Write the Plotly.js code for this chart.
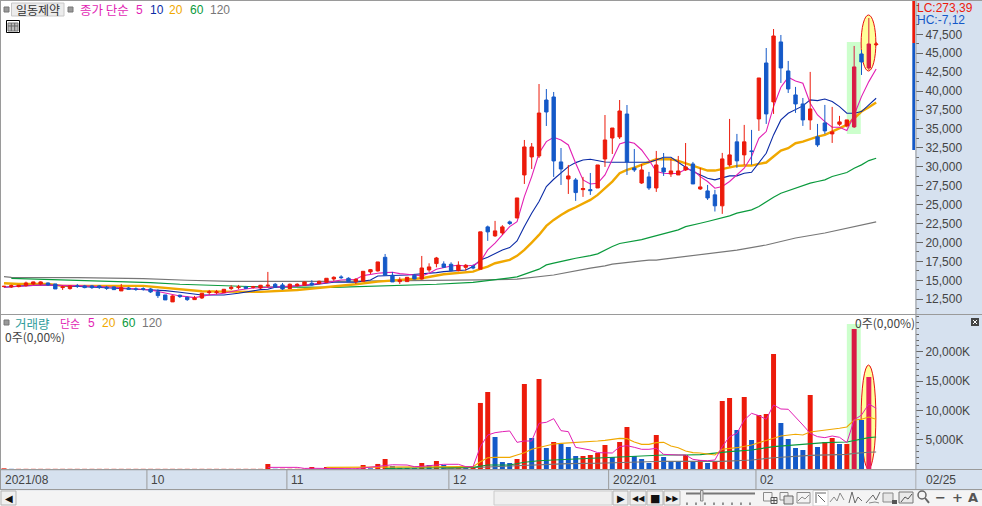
<!DOCTYPE html>
<html>
<head>
<meta charset="utf-8">
<script src="https://cdn.plot.ly/plotly-3.0.1.min.js"></script>
<style>html,body{margin:0;padding:0;background:#fff}#c{width:982px;height:506px}</style>
</head>
<body>
<div id="c"></div>
<script>
// ---------- data ----------
const openP = [14170,14130,14170,14300,14520,14520,14650,14520,14040,13910,
14260,14260,14260,14260,14080,14130,13600,13990,13860,13910,
13860,13470,13070,12150,13030,12760,12450,12670,13380,13380,
13380,13910,14040,14130,14080,13990,14260,14480,14390,13910,
14300,14350,14610,14570,14740,15180,15450,15270,14830,14870,
16110,16240,18040,15670,14830,14830,15670,15180,16370,17210,
17160,17120,16280,16720,16810,16470,22060,20870,21260,22720,
23240,28920,31300,31430,38820,39220,30640,28390,28260,26980,
26980,27200,31030,33800,33940,36970,29840,27860,28660,27200,
29840,29050,28920,29580,30370,27070,26810,26290,24840,30250,
33290,31570,32100,36320,43710,38570,46490,42660,39490,38300,
36190,33950,35790,34340,35620,35400,35270,44900,43050,46130];
const closeP = [14210,14300,14350,14650,14790,14790,14390,13860,14130,14260,
14210,14040,14040,14040,13950,13770,14040,13820,13820,13820,
13470,12980,12410,12940,12850,12450,12670,13290,13470,13470,
13820,14080,14130,13950,14170,14350,14350,14080,13860,14480,
14480,14790,14390,14870,15270,15400,15360,14830,15140,16190,
16410,17430,15670,14790,15050,15400,15180,16630,16770,17950,
16720,16280,16990,16990,16630,21400,21400,21530,22060,22500,
25880,32620,32620,37100,37240,30770,29710,28790,26590,27120,
26850,30240,33540,35120,37370,30640,29580,29580,27200,30240,
29320,29450,29450,29980,27730,27340,25880,24840,31040,31570,
30780,33290,32010,41730,36980,47280,43050,40280,38300,36190,
37640,32890,34740,34610,35930,36190,43190,43850,46220,46220];
const highP = [14260,14430,14390,14830,14830,14870,14700,14520,14300,14300,
14520,14390,14390,14350,14260,14170,14520,14130,14080,14080,
13990,13820,13070,13030,13110,12850,12940,13290,13730,13730,
13820,14350,14390,14260,14260,14390,16110,14650,14650,14570,
14610,14830,15010,14960,15270,15530,15670,15400,15270,16190,
16500,17430,18480,16110,15400,15400,15840,18220,17250,18090,
17510,17380,17510,17160,17070,21400,22230,22850,22280,22890,
25880,33540,33140,40930,40270,39880,32480,30240,28520,28660,
29180,30240,36840,35120,38820,38160,32350,30370,29320,32090,
31820,31030,31430,33140,30640,29840,27600,26950,31830,36320,
34340,35530,34870,41730,45690,48200,47410,43980,40550,39090,
42530,35660,38170,37910,36720,36190,45960,45430,49650,46490];
const lowP = [14080,13990,14080,14170,14390,14350,14260,13860,13730,13770,
13990,13950,13860,13860,13730,13730,13600,13730,13600,13640,
13330,12670,12410,12150,12670,12280,12410,12540,13110,13160,
13380,13730,13820,13860,13910,13820,14080,14040,13730,13860,
14170,14300,14300,14480,14700,14920,15180,14790,14520,14870,
15840,16150,15670,14790,14520,14830,15140,15090,16110,16720,
16630,16190,16190,16280,16460,16470,20210,20740,21000,22320,
23200,27730,29710,31160,35390,28660,27600,26410,25490,26020,
26280,27200,29980,31690,33670,28920,29320,27730,26940,26680,
28790,28660,28920,29450,27730,26940,25620,24090,23780,30030,
29850,30250,30250,34740,35660,36980,41070,39750,37120,35400,
34870,32630,34340,33150,35400,35220,35130,42130,42790,45960];
const highlighted = [116,118];

const ma5X = [0,5,10,15,20,22,24,26,28,30,32,34,36,38,40,42,44,46,48,49,50,51,52,53,54,55,56,57,58,59,60,61,62,63,64,
65,66,67,68,69,70,71,72,73,74,75,76,77,78,79,80,81,82,83,84,85,86,87,88,89,90,91,92,93,94,95,
96,97,98,99,100,101,102,103,104,105,106,107,108,109,110,111,112,113,114,115,116,117,118,119];
const ma5Y = [14080,14390,14300,14080,13730,13290,12940,12720,13070,13290,13730,13990,14130,14170,14260,14480,14700,15050,15140,15620,15800,15930,16020,16060,15890,15750,15710,15580,15930,16460,16720,16900,16990,16900,16990,
17480,19020,19900,21000,22100,22760,26060,28700,31780,33320,33890,33540,32880,30460,28260,27730,27820,28920,30900,33010,33320,33100,32220,30900,29360,29140,29100,29140,29670,29580,28700,
28050,27170,27390,28050,28930,29810,31350,33770,34650,37950,40500,41820,41340,41030,38390,36850,35970,35220,35220,34780,36850,39270,41250,42920];
const ma10X = [0,3,6,10,13,16,18,20,22,24,25,27,30,32,35,36,37,40,42,45,48,50,51,55,57,59,60,63,64,
65,66,67,68,69,70,71,72,73,74,75,76,77,78,79,80,81,82,83,84,85,86,87,88,89,90,91,92,93,94,95,
96,97,98,99,100,101,102,103,104,105,106,107,108,109,110,111,112,113,114,115,116,117,118,119];
const ma10Y = [14080,14300,14390,14170,13990,13910,13820,13730,13640,13420,13290,13070,13070,13290,13770,13820,14080,14260,14390,14740,14740,15050,15580,15710,15840,16020,16150,16370,16820,
17700,18050,18490,19020,19330,20210,22100,23860,25400,27380,28350,29230,30020,30550,30900,30990,30770,30640,30590,30590,30590,30590,30590,30590,30900,31250,31250,30550,29930,29360,28920,
28490,28270,28580,28800,28800,29150,29280,30470,31790,34210,36190,37070,37600,38040,38830,38740,38960,38610,37950,37070,37070,37290,38170,39050];
const ma20X = [0,2,6,8,19,21,24,27,30,35,40,44,48,51,54,57,60,64,
65,66,67,68,69,70,71,72,73,74,75,76,77,78,79,80,81,82,83,84,85,86,87,88,89,90,91,92,93,94,95,
96,97,98,99,100,101,102,103,104,105,106,107,108,109,110,111,112,113,114,115,116,117,118,119];
const ma20Y = [14610,14520,14520,14260,14260,14080,13730,13550,13510,13470,13730,14080,14480,14830,15050,15270,15800,16150,
16510,16820,17260,17480,17700,18230,19020,19990,21000,22190,22980,23640,24210,24650,25090,25620,26280,27160,28040,29140,29580,29890,30280,30680,30990,31030,30990,30770,30460,30150,29800,
29500,29500,29680,29900,30120,30160,30160,30380,30560,31350,32140,32450,33110,33330,33680,33990,34210,34650,35090,35530,36410,37290,37860,38480];
const ma60X = [1,6,15,20,24,28,35,45,50,55,59,64,70,73,74,75,76,77,78,79,80,81,82,83,84,85,86,87,88,89,90,91,92,93,94,95,
96,97,98,99,100,101,102,103,104,105,106,107,108,109,110,111,112,113,114,115,116,117,118,119];
const ma60Y = [15270,15140,14830,14700,14480,14350,14130,14080,14210,14350,14480,14740,15450,16470,17040,17260,17440,17700,17920,18050,18270,18490,19020,19460,19860,20030,20210,20380,20650,20910,21090,21440,21660,22100,22360,22540,
22770,22990,23210,23520,23870,24090,24310,24750,25410,25980,26510,26860,27170,27520,27830,28050,28270,28710,28930,29240,29810,30250,30820,31130];
const ma120X = [0,1,10,19,25,31,45,62,65,70,75,80,81,82,83,84,85,86,87,88,89,90,91,92,93,94,95,96,100,104,108,112,114,116,119];
const ma120Y = [15490,15400,15360,15230,15010,14870,14870,14960,15050,15150,15700,16600,16730,16910,17130,17260,17390,17480,17570,17660,17660,17790,17920,18010,18100,18270,18400,18480,19000,19670,20590,21250,21650,22050,22710];

// volume in thousands of shares
const volume = [115,30,30,30,30,30,30,30,30,30,30,30,30,30,30,30,30,30,30,30,
30,30,30,30,30,30,30,30,30,30,30,30,30,30,30,30,850,40,40,40,
40,40,340,40,340,60,60,60,60,680,120,860,1710,510,200,180,150,1020,680,1370,
680,200,400,180,230,11270,13140,5460,1190,1020,1710,14510,5290,15360,3580,4610,4270,3760,2220,2220,
2390,2730,4100,2050,4610,7170,2220,1710,1020,5800,2050,1370,1250,2390,1370,1540,1020,1250,11610,12120,
6660,12290,4950,9220,9390,19630,7850,5120,3580,3240,12630,3760,4610,5290,4270,4270,23900,8360,15700,0];
const volMa5X = [36,40,41,42,48,49,50,51,52,53,55,56,57,58,59,60,62,63,64,
65,66,67,68,69,70,71,72,73,74,75,76,77,78,79,80,81,82,83,84,85,86,87,88,89,90,91,92,93,94,95,96,
97,98,99,100,101,102,103,104,105,106,107,108,109,110,111,112,113,114,115,116,117,118,119];
const volMa5Y = [280,280,100,120,50,200,280,400,600,720,680,400,450,550,760,800,800,400,400,
3810,5800,6200,6370,6490,4550,4780,4780,7800,7970,8590,6540,6370,3700,3410,3240,2790,2790,2730,3810,3980,3700,3360,3360,3530,2500,2390,2390,2390,1650,1480,1420,
1540,3810,5520,6090,8360,9500,9100,8480,10920,10240,10190,8930,7510,6090,5520,5350,5630,5410,4500,8360,9220,11100,10360];
const volMa20X = [44,63,64,65,66,67,68,69,70,71,72,73,74,75,76,77,78,79,80,81,82,83,84,85,86,87,88,89,90,91,92,93,94,95,96,97,
98,100,102,104,106,108,109,110,112,114,115,116,117,118,119];
const volMa20Y = [280,300,400,1250,1930,1990,1990,1990,2390,2790,3360,3700,3930,4270,4380,4440,4550,4610,4670,4780,4890,5120,5230,5180,4610,4210,4210,4500,4550,3930,3640,3070,2790,2730,2500,2390,
3360,3640,4100,4840,5630,5920,5800,6320,6600,6940,7170,8360,8480,8880,8480];
const volMa60X = [52,64,66,69,71,73,75,77,79,81,83,85,87,90,93,95,99,102,105,108,110,112,115,116,118,119];
const volMa60Y = [100,280,680,680,1140,1420,1540,1650,1820,1880,1930,2110,2160,2390,2390,2450,2960,3240,3810,4100,4320,4500,4610,4890,5350,5460];
const volMa120X = [60,64,66,69,73,77,81,85,90,98,102,105,110,115,116,118,119];
const volMa120Y = [50,170,340,510,740,910,970,1140,1310,1300,1540,1930,2330,2500,2670,2850,2900];

const priceTicks = [12500,15000,17500,20000,22500,25000,27500,30000,32500,35000,37500,40000,42500,45000,47500];
const volumeTicks = [5000,10000,15000,20000];
const monthLabels = ["2021/08","10","11","12","2022/01","02"];
const monthStart = [-0.4,19.5,38.6,60.7,82.5,102.6];
const maLegend = ["5","10","20","60","120"];
const volLegend = ["5","20","60","120"];

// ---------- styles ----------
const W=982,H=506;
const cRed="#ec1b0b",cBlue="#1459c8",cMa5="#e21fb4",cMa10="#0b2ba6",cMa20="#f0a800",cMa60="#0a9a3c",cMa120="#777777";
const cHi1="#d91b45",cHi2="#e8205f";
const band="#d6e1ef",edge="#9a9a9a",ink="#444444";
const NUM="'Liberation Sans',sans-serif",KR="'Noto Sans CJK KR',sans-serif",SYM="'DejaVu Sans',sans-serif";
const idx=openP.map((_,i)=>i);
const priceRange=[10551,51899], volRange=[0,26280];
const xRange=[-0.41,124.3];

const px=x=>x/W, py=y=>1-y/H;
const shapes=[], notes=[];
function rect(x0,y0,x1,y1,fill,line,lw){shapes.push({type:'rect',xref:'paper',yref:'paper',x0:px(x0),x1:px(x1),y0:py(y0),y1:py(y1),layer:'above',fillcolor:fill||'rgba(0,0,0,0)',line:{color:line||'rgba(0,0,0,0)',width:line?(lw||1):0}});}
function poly(pts,color,lw,close){shapes.push({type:'path',xref:'paper',yref:'paper',layer:'above',path:pts.map((p,i)=>(i?'L':'M')+px(p[0]).toFixed(5)+' '+py(p[1]).toFixed(5)).join(' ')+(close?' Z':''),line:{color:color,width:lw||1}});}
function circ(x0,y0,x1,y1,line,lw){shapes.push({type:'circle',xref:'paper',yref:'paper',layer:'above',x0:px(x0),x1:px(x1),y0:py(y0),y1:py(y1),line:{color:line,width:lw||1}});}
function text(x,y,t,color,size,family,anchor){notes.push({xref:'paper',yref:'paper',x:px(x),y:py(y),xanchor:anchor||'left',yanchor:'middle',showarrow:false,text:t,font:{color:color,size:size,family:family},borderpad:0,borderwidth:0});}

// highlight marks drawn on data coordinates, under the traces
shapes.push({type:'rect',xref:'x',yref:'y',layer:'below',x0:115,x1:116.9,y0:34330,y1:46480,fillcolor:'#ccffcc',line:{width:0}});
shapes.push({type:'rect',xref:'x',yref:'y2',layer:'below',x0:115,x1:116.9,y0:0,y1:24740,fillcolor:'#ccffcc',line:{width:0}});
shapes.push({type:'circle',xref:'x',yref:'y',layer:'below',x0:116.95,x1:118.96,y0:42650,y1:50050,fillcolor:'#ffff99',line:{color:'#e81010',width:1}});
shapes.push({type:'circle',xref:'x',yref:'y2',layer:'below',x0:116.95,x1:118.96,y0:0,y1:17740,fillcolor:'#ffff99',line:{color:'#e81010',width:1}});

// frame and bands
rect(0,0,982,1,edge);                    // top
rect(0,0,1,490,edge);                    // left
rect(915.5,0,916.5,490,edge);            // right divider
rect(0,314,982,315,edge);                // between panels
rect(1,469,915,490,band);                // date band
rect(0,469,982,470.2,edge);
rect(0,489,982,490.2,edge);
rect(916.5,470,982,489,band);
monthStart.forEach(i=>{ if(i>0) shapes.push({type:'line',xref:'x',yref:'paper',layer:'above',x0:i,x1:i,y0:py(470),y1:py(489),line:{color:edge,width:1}}); });
rect(912.3,1,915,43,cRed); rect(912.3,43,915,150,'#1459c8');
monthLabels.forEach((m,k)=>{notes.push({xref:'x',yref:'paper',x:monthStart[k],y:py(479.5),xanchor:'left',yanchor:'middle',xshift:2,showarrow:false,text:m,font:{size:12,color:ink,family:NUM}});});
text(926,479.5,"02/25",ink,12,NUM);

// top legend
rect(4,7,9,12,'#999999','#777777');
rect(11.5,3,64,16,'#ececec','#c8c8c8');
text(37.7,9.5,"일동제약",'#333333',12,KR,'center');
rect(68,7,73,12,'#999999','#777777');
text(80,9.5,"종가 단순",cMa5,12.5,KR);
const legendX=[136,150,169,190,210], legendC=[cMa5,cMa10,cMa20,cMa60,cMa120];
maLegend.forEach((t,k)=>text(legendX[k],9.5,t,legendC[k],12,NUM));
rect(6.5,20.5,19.5,32.5,'#ffffff','#000000');
rect(8,23,18,31,'#bdbdbd','#777777');
poly([[11.3,23],[11.3,31]],'#666666'); poly([[14.7,23],[14.7,31]],'#666666'); poly([[8,26],[18,26]],'#666666');
text(917,8,"LC:273,39",cRed,12,NUM);
text(917,20,"HC:-7,12",cBlue,12,NUM);

// volume legend
rect(4,320,9,325,'#999999','#777777');
text(15,323,"거래량",'#2e9c9c',12.5,KR);
text(60,323,"단순",cMa5,11,KR);
const volLegendX=[88,102,122,142], volLegendC=[cMa5,cMa20,cMa60,cMa120];
volLegend.forEach((t,k)=>text(volLegendX[k],323,t,volLegendC[k],12,NUM));
text(5,336.5,"0주(0,00%)",ink,12,KR);
text(915,322,"0주(0,00%)",ink,12,KR,'right');
rect(971,318,979,326,'#444444');
poly([[973,320],[977,324]],'#ffffff'); poly([[977,320],[973,324]],'#ffffff');

// bottom toolbar
rect(0,490.2,982,506,'#f4f4f4');
function btn(x0,x1,g,s){rect(x0,491,x1,505,'#f0f0f0','#b5b5b5');if(g)text((x0+x1)/2,498,g,'#111111',s||10,SYM,'center');}
btn(1,16,"◀"); rect(494,491,612,505,'#efefef','#cccccc');
btn(613,628,"▶"); btn(630,646,"◀◀",8); btn(647,663,"■",11); btn(664,680,"▶▶",8);
poly([[686,493.5],[755,493.5]],'#777777',2);
rect(700.5,490.5,703,501,'#dddddd','#888888');
[687,696,705,714,723,732,741,750].forEach(x=>poly([[x,502.5],[x,505]],'#333333'));
const ic='#8a8a8a';
rect(763.5,492.5,772,501,'#f4f4f4',ic); rect(771,497.5,777,503.5,'#f4f4f4','#555555'); poly([[774,497.5],[774,503.5]],'#555555'); poly([[771,500.5],[777,500.5]],'#555555');
rect(780,492.5,788,500,'#f4f4f4',ic); rect(784,496,793,504,'#dddddd','#666666');
rect(797,492.5,810,503,'#f4f4f4',ic); poly([[798,501],[802,497],[805,499],[809,495]],ic);
rect(813,490.5,828,506,'#ffffff','#cccccc');
poly([[816,492],[816,503]],'#666666'); poly([[817,493],[826,493]],'#666666'); poly([[818,495],[825,502]],'#666666');
poly([[830,502],[834,497],[837,501],[840,493],[844,500]],ic);
poly([[849,503],[852,492],[855,503],[858,497],[862,501]],'#666666');
poly([[866,503],[873,495],[876,500],[880,492]],'#666666'); poly([[869,503],[875,502],[879,503]],ic);
rect(883,493,893,502,'#e6e6e6',ic); rect(892,500,897,504,'#555555');
rect(899,492,913,503,'#eaeaea','#777777'); poly([[901,502],[905,497],[908,499],[912,494]],'#555555');
circ(918,491,926,499,'#666666',1.5); poly([[925,498],[929,503]],'#666666',2);
text(940,497.5,"<b>−</b>",'#555555',13,SYM,'center');
text(957.5,497.5,"<b>+</b>",'#555555',13,SYM,'center');
text(973,497.5,"<b>A</b>",'#555555',13,SYM,'center');

// ---------- traces ----------
const line=(x,y,c,w,ya)=>({type:'scatter',mode:'lines',x:x,y:y,xaxis:'x',yaxis:ya,line:{color:c,width:w},hoverinfo:'skip',showlegend:false});
const pick=(arr,hi)=>arr.filter((_,i)=>highlighted.includes(i)===hi);
const candle=(hi,inc,dec)=>({type:'candlestick',xaxis:'x',yaxis:'y3',x:pick(idx,hi),open:pick(openP,hi),high:pick(highP,hi),low:pick(lowP,hi),close:pick(closeP,hi),
  increasing:{line:{color:inc,width:1},fillcolor:inc},decreasing:{line:{color:dec,width:1},fillcolor:dec},whiskerwidth:0,showlegend:false,hoverinfo:'skip'});
const volColors=volume.map((v,i)=>i===116?cHi1:i===118?cHi2:(i===0||v>=volume[i-1]?cRed:cBlue));
const traces=[
 line(ma120X,ma120Y,cMa120,1.2,'y'),
 line(ma60X,ma60Y,cMa60,1.2,'y'),
 line(ma20X,ma20Y,cMa20,2.4,'y'),
 line(ma10X,ma10Y,cMa10,1.1,'y'),
 line(ma5X,ma5Y,cMa5,1.1,'y'),
 candle(false,cRed,cBlue),
 candle(true,cHi1,cHi1),
 {type:'bar',x:idx,y:volume,xaxis:'x',yaxis:'y2',marker:{color:volColors,line:{width:0}},width:0.68,showlegend:false,hoverinfo:'skip'},
 line(volMa120X,volMa120Y,cMa120,1.1,'y2'),
 line(volMa60X,volMa60Y,cMa60,1.1,'y2'),
 line(volMa20X,volMa20Y,cMa20,1.1,'y2'),
 line(volMa5X,volMa5Y,cMa5,1,'y2'),
];
const tickCommon={side:'right',showgrid:false,zeroline:false,showline:false,ticks:'outside',ticklen:7,tickcolor:'#666666',tickfont:{family:NUM,size:12,color:ink},fixedrange:true};
const layout={
 width:W,height:H,margin:{l:0,r:0,t:0,b:0},autosize:false,paper_bgcolor:band,plot_bgcolor:'#ffffff',showlegend:false,dragmode:false,
 boxmode:'overlay',boxgap:0.34,barmode:'overlay',
 xaxis:{domain:[1/W,915/W],range:xRange,anchor:'y2',showticklabels:false,ticks:'',showgrid:false,zeroline:false,showline:false,rangeslider:{visible:false},fixedrange:true},
 yaxis:{...tickCommon,domain:[1-314/H,1-1/H],range:priceRange,anchor:'x',tickmode:'array',tickvals:priceTicks,ticktext:priceTicks.map(v=>v.toLocaleString('en-US')),
   minor:{ticks:'outside',ticklen:3,tickcolor:'#666666',dtick:1250,tick0:0,showgrid:false}},
 yaxis3:{overlaying:'y',range:priceRange,visible:false,fixedrange:true,anchor:'x'},
 yaxis2:{...tickCommon,domain:[1-469/H,1-315/H],range:volRange,anchor:'x',tickmode:'array',tickvals:volumeTicks,ticktext:volumeTicks.map(v=>v.toLocaleString('en-US')+'K'),
   minor:{ticks:'outside',ticklen:3,tickcolor:'#666666',dtick:1000,tick0:0,showgrid:false}},
 shapes:shapes,annotations:notes
};
Plotly.newPlot('c',traces,layout,{displayModeBar:false,staticPlot:true});
</script>
</body>
</html>
